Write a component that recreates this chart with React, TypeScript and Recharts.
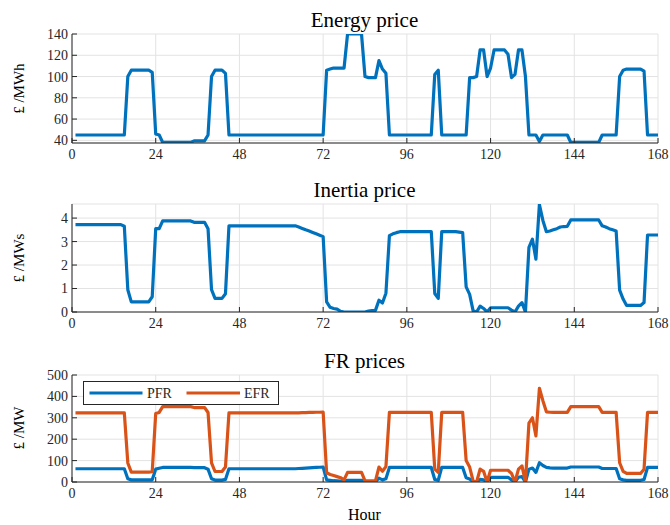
import React from 'react';
import { LineChart, Line, XAxis, YAxis, CartesianGrid } from 'recharts';

// Hours of the week (1..168)
const hours = Array.from({ length: 168 }, (_, i) => i + 1);
const xTicks = [0, 24, 48, 72, 96, 120, 144, 168];
const energyTicks = [40, 60, 80, 100, 120, 140];
const inertiaTicks = [0, 1, 2, 3, 4];
const frTicks = [0, 100, 200, 300, 400, 500];

// Energy price, £/MWh
const energyPrice = [
  45, 45, 45, 45, 45, 45, 45, 45, 45, 45, 45, 45, 45, 45, 45, 100, 106, 106, 106, 106, 106, 106, 104, 46,
  45, 38, 38, 38, 38, 38, 38, 38, 38, 38, 39.5, 39.5, 39.5, 39.5, 45, 100, 106, 106, 106, 103, 45, 45, 45, 45,
  45, 45, 45, 45, 45, 45, 45, 45, 45, 45, 45, 45, 45, 45, 45, 45, 45, 45, 45, 45, 45, 45, 45, 45,
  106, 107, 108, 108, 108, 108, 140, 140, 140, 140, 140, 100, 99, 99, 99, 115, 107, 103, 45, 45, 45, 45, 45, 45,
  45, 45, 45, 45, 45, 45, 45, 102, 106, 45, 45, 45, 45, 45, 45, 45, 45, 99, 99, 100, 125, 125, 100, 108,
  125, 125, 125, 125, 121, 99, 102, 125, 125, 100, 45, 45, 45, 39, 45, 45, 45, 45, 45, 45, 45, 45, 38, 38,
  38, 38, 38, 38, 38, 38, 38, 45, 45, 45, 45, 45, 100, 106, 107, 107, 107, 107, 107, 105, 45, 45, 45, 45,
];

// Inertia price, £/MWs
const inertiaPrice = [
  3.72, 3.72, 3.72, 3.72, 3.72, 3.72, 3.72, 3.72, 3.72, 3.72, 3.72, 3.72, 3.72, 3.72, 3.65, 0.95, 0.43, 0.43, 0.43, 0.43, 0.43, 0.43, 0.65, 3.55,
  3.55, 3.88, 3.88, 3.88, 3.88, 3.88, 3.88, 3.88, 3.88, 3.88, 3.82, 3.82, 3.82, 3.82, 3.55, 0.95, 0.58, 0.58, 0.58, 0.78, 3.67, 3.67, 3.67, 3.67,
  3.67, 3.67, 3.67, 3.67, 3.67, 3.67, 3.67, 3.67, 3.67, 3.67, 3.67, 3.67, 3.67, 3.67, 3.67, 3.67, 3.62, 3.56, 3.5, 3.45, 3.39, 3.33, 3.27, 3.21,
  0.43, 0.2, 0.15, 0.12, 0.03, 0, 0, 0, 0, 0, 0, 0, 0.04, 0.06, 0.07, 0.5, 0.38, 0.8, 3.25, 3.33, 3.38, 3.42, 3.42, 3.42,
  3.42, 3.42, 3.42, 3.42, 3.42, 3.42, 3.42, 0.79, 0.58, 3.42, 3.42, 3.42, 3.42, 3.42, 3.4, 3.38, 1.07, 0.75, 0.05, 0, 0.25, 0.15, 0, 0.18,
  0.18, 0.18, 0.18, 0.18, 0.18, 0.08, 0, 0.25, 0.4, 0, 2.75, 3.1, 2.25, 4.58, 3.9, 3.42, 3.45, 3.5, 3.55, 3.62, 3.64, 3.65, 3.92, 3.92,
  3.92, 3.92, 3.92, 3.92, 3.92, 3.92, 3.92, 3.67, 3.62, 3.55, 3.5, 3.45, 0.93, 0.55, 0.28, 0.28, 0.28, 0.28, 0.28, 0.4, 3.28, 3.28, 3.28, 3.28,
];

// PFR price, £/MW
const pfrPrice = [
  62, 62, 62, 62, 62, 62, 62, 62, 62, 62, 62, 62, 62, 62, 62, 15, 10, 10, 10, 10, 10, 10, 10, 60,
  64, 68, 68, 68, 68, 68, 68, 68, 68, 68, 67, 67, 67, 67, 60, 15, 9, 9, 9, 12, 62, 62, 62, 62,
  62, 62, 62, 62, 62, 62, 62, 62, 62, 62, 62, 62, 62, 62, 62, 62, 63, 64, 65, 66, 67, 68, 69, 70,
  10, 8, 6, 5, 4, 2, 8, 8, 8, 8, 8, 1, 1, 1, 1, 18, 10, 15, 68, 68, 68, 68, 68, 68,
  68, 68, 68, 68, 68, 68, 68, 12, 8, 68, 68, 68, 68, 68, 68, 68, 20, 14, 1, 0, 12, 10, 0, 22,
  22, 22, 22, 22, 22, 10, 0, 22, 25, 0, 60, 65, 45, 90, 77, 68, 66, 65, 65, 65, 65, 65, 70, 70,
  70, 70, 70, 70, 70, 70, 70, 63, 63, 63, 63, 63, 15, 10, 8, 8, 8, 8, 8, 12, 68, 68, 68, 68,
];

// EFR price, £/MW
const efrPrice = [
  323, 323, 323, 323, 323, 323, 323, 323, 323, 323, 323, 323, 323, 323, 323, 89, 46, 46, 46, 46, 46, 46, 48, 320,
  325, 352, 352, 352, 352, 352, 352, 352, 352, 352, 348, 348, 348, 348, 325, 89, 49, 49, 49, 70, 323, 323, 323, 323,
  323, 323, 323, 323, 323, 323, 323, 323, 323, 323, 323, 323, 323, 323, 323, 323, 323, 324, 324, 325, 325, 326, 326, 327,
  43, 35, 30, 25, 20, 10, 45, 45, 45, 45, 45, 5, 5, 5, 5, 70, 50, 72, 325, 325, 325, 325, 325, 325,
  325, 325, 325, 325, 325, 325, 325, 60, 45, 325, 325, 325, 325, 325, 325, 325, 100, 70, 5, 0, 60, 50, 0, 55,
  55, 55, 55, 55, 55, 40, 0, 60, 75, 0, 275, 300, 215, 438, 380, 328, 326, 325, 325, 325, 325, 325, 352, 352,
  352, 352, 352, 352, 352, 352, 352, 325, 325, 325, 325, 325, 90, 50, 40, 40, 40, 40, 40, 60, 325, 325, 325, 325,
];

const table = hours.map((h, i) => ({
  hour: h,
  energy: energyPrice[i],
  inertia: inertiaPrice[i],
  pfr: pfrPrice[i],
  efr: efrPrice[i],
}));

const BLUE = '#0072BD';
const ORANGE = '#D95319';
const AX = '#262626';
const GRID = '#e3e3e3';
const FONT = '"Liberation Serif", "Times New Roman", serif';

type PanelProps = {
  top: number;
  height: number;
  marginTop: number;
  xAxisHeight: number;
  yDomain: [number, number];
  yTicks: number[];
  series: { key: string; color: string }[];
};

function Panel({ top, height, marginTop, xAxisHeight, yDomain, yTicks, series }: PanelProps) {
  const tickStyle = { fill: AX, fontSize: 14, fontFamily: FONT };
  return (
    <div style={{ position: 'absolute', left: 0, top, width: 670, height }}>
      <LineChart
        width={670}
        height={height}
        data={table}
        margin={{ top: marginTop, right: 12, left: 0, bottom: 0 }}
      >
        <CartesianGrid xAxisId="b" yAxisId="l" stroke={GRID} strokeWidth={1} />
        <XAxis
          xAxisId="b"
          dataKey="hour"
          type="number"
          domain={[0, 168]}
          ticks={xTicks}
          interval={0}
          allowDataOverflow
          height={xAxisHeight}
          tickSize={-5}
          tickMargin={11}
          stroke={AX}
          tick={tickStyle}
        />
        <XAxis
          xAxisId="t"
          orientation="top"
          dataKey="hour"
          type="number"
          domain={[0, 168]}
          ticks={xTicks}
          interval={0}
          allowDataOverflow
          height={0}
          tickSize={-5}
          stroke={AX}
          tickFormatter={() => ''}
        />
        <YAxis
          yAxisId="l"
          type="number"
          domain={yDomain}
          ticks={yTicks}
          interval={0}
          allowDataOverflow
          width={72}
          tickSize={-5}
          tickMargin={9}
          stroke={AX}
          tick={tickStyle}
        />
        <YAxis
          yAxisId="r"
          orientation="right"
          type="number"
          domain={yDomain}
          ticks={yTicks}
          interval={0}
          allowDataOverflow
          width={0}
          tickSize={-5}
          stroke={AX}
          tickFormatter={() => ''}
        />
        {series.map((s) => (
          <Line
            key={s.key}
            xAxisId="b"
            yAxisId="l"
            dataKey={s.key}
            type="linear"
            stroke={s.color}
            strokeWidth={3.2}
            strokeLinejoin="round"
            dot={false}
            activeDot={false}
            isAnimationActive={false}
          />
        ))}
      </LineChart>
    </div>
  );
}

export default function App() {
  return (
    <div
      style={{
        position: 'absolute',
        left: 0,
        top: 0,
        width: 670,
        height: 525,
        background: '#fff',
        fontFamily: FONT,
      }}
    >
      <Panel
        top={0}
        height={170}
        marginTop={34}
        xAxisHeight={27}
        yDomain={[37.5, 140]}
        yTicks={energyTicks}
        series={[{ key: 'energy', color: BLUE }]}
      />
      <Panel
        top={170}
        height={170}
        marginTop={34}
        xAxisHeight={28}
        yDomain={[0, 4.6]}
        yTicks={inertiaTicks}
        series={[{ key: 'inertia', color: BLUE }]}
      />
      <Panel
        top={340}
        height={185}
        marginTop={35}
        xAxisHeight={43}
        yDomain={[0, 500]}
        yTicks={frTicks}
        series={[
          { key: 'pfr', color: BLUE },
          { key: 'efr', color: ORANGE },
        ]}
      />
      <svg
        width={670}
        height={525}
        style={{ position: 'absolute', left: 0, top: 0, pointerEvents: 'none' }}
      >
        <g fontFamily={FONT} fill="#000">
          <text x={364.5} y={27} fontSize={21} textAnchor="middle">Energy price</text>
          <text x={364.5} y={197} fontSize={21} textAnchor="middle">Inertia price</text>
          <text x={364.5} y={368} fontSize={21} textAnchor="middle">FR prices</text>
          <text x={19} y={88.6} fontSize={15} textAnchor="middle" dominantBaseline="central" transform="rotate(-90 19 88.6)">£ /MWh</text>
          <text x={19} y={258} fontSize={15} textAnchor="middle" dominantBaseline="central" transform="rotate(-90 19 258)">£ /MWs</text>
          <text x={19} y={428} fontSize={15} textAnchor="middle" dominantBaseline="central" transform="rotate(-90 19 428)">£ /MW</text>
          <text x={364.5} y={520} fontSize={16} textAnchor="middle">Hour</text>
        </g>
        <g>
          <rect x={83.5} y={381.5} width={195} height={23} fill="#fff" stroke={AX} strokeWidth={1} />
          <line x1={89.5} x2={142.5} y1={393} y2={393} stroke={BLUE} strokeWidth={3.2} />
          <text x={147} y={397.5} fontSize={14} fontFamily={FONT} fill={AX}>PFR</text>
          <line x1={186.5} x2={240} y1={393} y2={393} stroke={ORANGE} strokeWidth={3.2} />
          <text x={244} y={397.5} fontSize={14} fontFamily={FONT} fill={AX}>EFR</text>
        </g>
      </svg>
    </div>
  );
}
